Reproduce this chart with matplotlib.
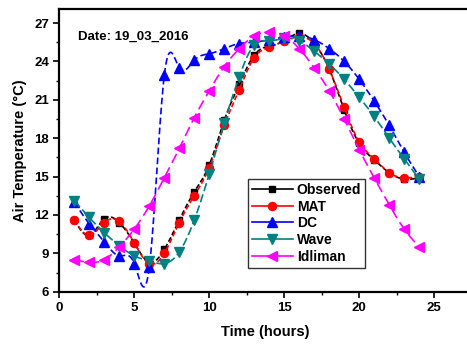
import numpy as np
import matplotlib
matplotlib.use("Agg")
import matplotlib.pyplot as plt
from matplotlib.ticker import MultipleLocator

plt.rcParams['font.family'] = ['Liberation Sans', 'DejaVu Sans']
plt.rcParams['font.weight'] = 'bold'

hours = np.arange(1, 25)

observed = [11.6, 10.4, 11.7, 11.4, 9.8, 8.3, 9.3, 11.6, 13.8, 15.9, 19.4, 22.2,
            24.5, 25.2, 25.6, 26.2, 25.4, 23.4, 20.2, 17.6, 16.3, 15.3, 14.8, 14.9]
mat = [11.6, 10.4, 11.4, 11.5, 9.8, 8.2, 9.0, 11.4, 13.5, 15.7, 19.0, 21.8,
       24.3, 25.1, 25.6, 25.9, 25.4, 23.4, 20.4, 17.7, 16.4, 15.3, 14.9, 15.0]
dc = [13.0, 11.3, 9.9, 8.8, 8.2, 7.9, 22.9, 23.5, 24.1, 24.6, 25.0, 25.4,
      25.5, 25.7, 25.9, 26.0, 25.7, 25.0, 24.0, 22.6, 20.9, 19.0, 16.9, 15.0]
wave = [13.1, 11.8, 10.6, 9.6, 8.8, 8.4, 8.2, 9.1, 11.6, 15.2, 19.2, 22.8,
        25.3, 25.6, 25.8, 25.6, 24.8, 23.8, 22.6, 21.2, 19.7, 18.0, 16.4, 14.8]
idliman = [8.5, 8.3, 8.5, 9.5, 10.9, 12.7, 14.9, 17.2, 19.6, 21.7, 23.6, 25.0,
           26.0, 26.3, 26.0, 25.0, 23.5, 21.7, 19.5, 17.1, 14.9, 12.8, 10.9, 9.5]


def spline(x, y, n=400):
    # natural cubic spline, like the "spline" connect option in Origin
    x = np.asarray(x, float)
    y = np.asarray(y, float)
    k = len(x)
    h = np.diff(x)
    A = np.zeros((k, k))
    r = np.zeros(k)
    A[0, 0] = A[-1, -1] = 1
    for i in range(1, k - 1):
        A[i, i - 1] = h[i - 1]
        A[i, i] = 2 * (h[i - 1] + h[i])
        A[i, i + 1] = h[i]
        r[i] = 6 * ((y[i + 1] - y[i]) / h[i] - (y[i] - y[i - 1]) / h[i - 1])
    m = np.linalg.solve(A, r)
    xs = np.linspace(x[0], x[-1], n)
    j = np.clip(np.searchsorted(x, xs) - 1, 0, k - 2)
    t = xs - x[j]
    hj = h[j]
    ys = (m[j] * (x[j + 1] - xs) ** 3 / (6 * hj) + m[j + 1] * t ** 3 / (6 * hj)
          + (y[j] / hj - m[j] * hj / 6) * (x[j + 1] - xs)
          + (y[j + 1] / hj - m[j + 1] * hj / 6) * t)
    return xs, ys


series = [
    ("Observed", observed, "black", "s", 4.8, (0, (3, 1.5))),
    ("MAT", mat, "red", "o", 5.8, (0, (3, 1.5))),
    ("DC", dc, "blue", "^", 6.5, (0, (4, 2))),
    ("Wave", wave, "#008080", "v", 6.5, (0, (5, 2))),
    ("Idliman", idliman, "magenta", "<", 6.5, (0, (6, 3))),
]

fig = plt.figure(figsize=(4.67, 3.45), dpi=100)
ax = fig.add_axes([0.127, 0.1545, 0.883, 0.8195])

for name, vals, col, mk, ms, ls in series:
    xs, ys = spline(hours, vals)
    ax.plot(xs, ys, color=col, lw=1.2, ls=ls)
    ax.plot(hours, vals, color=col, marker=mk, ms=ms, ls="none")
    ax.plot([], [], color=col, marker=mk, ms=ms, lw=1.2, ls="-", label=name)

ax.set_xlim(0, 27.5)
ax.set_ylim(6, 28.1)
ax.xaxis.set_major_locator(MultipleLocator(5))
ax.xaxis.set_minor_locator(MultipleLocator(2.5))
ax.yaxis.set_major_locator(MultipleLocator(3))
ax.yaxis.set_minor_locator(MultipleLocator(1.5))
ax.tick_params(which="major", direction="out", length=4, width=1.2, labelsize=9.5)
ax.tick_params(which="minor", direction="out", length=2.5, width=1)
for lab in ax.get_xticklabels() + ax.get_yticklabels():
    lab.set_fontweight("bold")
for s in ax.spines.values():
    s.set_linewidth(1.6)

ax.set_xlabel("Time (hours)", fontsize=10.5, fontweight="bold", labelpad=8)
ax.set_ylabel("Air Temperature (\u00b0C)", fontsize=10.5, fontweight="bold", labelpad=5)
ax.text(0.045, 0.9, "Date: 19_03_2016", transform=ax.transAxes, fontsize=9.5,
        fontweight="bold", va="center")

leg = ax.legend(loc="upper left", bbox_to_anchor=(0.458, 0.40), fontsize=10,
                frameon=True, fancybox=False, handlelength=2.9, handletextpad=0.3,
                labelspacing=0.2, borderpad=0.3, borderaxespad=0)
leg.get_frame().set_edgecolor("black")
leg.get_frame().set_linewidth(1)
for t in leg.get_texts():
    t.set_fontweight("bold")

fig.savefig("out.png", dpi=100)
